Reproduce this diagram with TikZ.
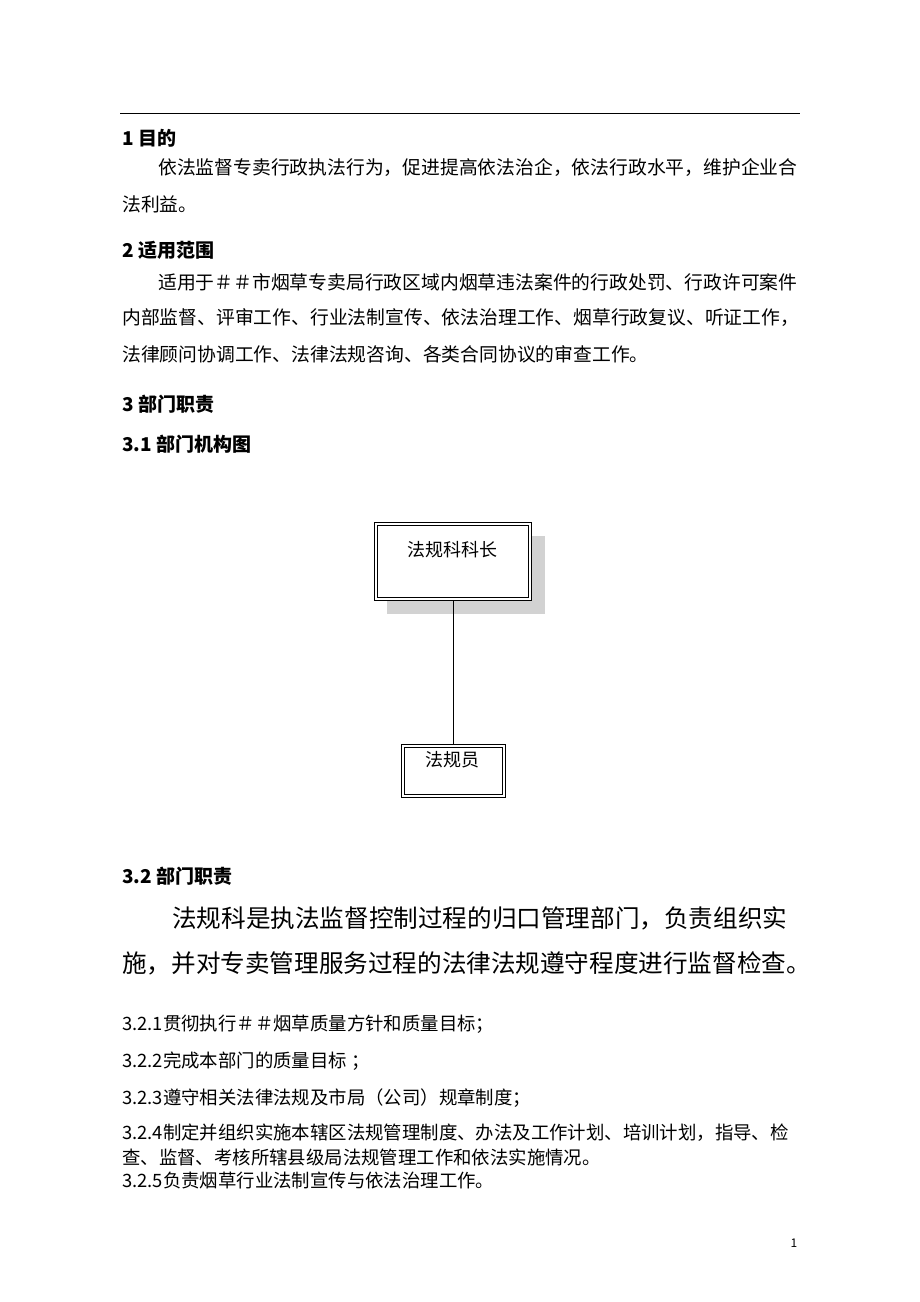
\documentclass[tikz,border=0pt]{standalone}
\usepackage{fontspec}
\setmainfont{Noto Sans CJK SC}
\begin{document}
\begin{tikzpicture}[x=1pt,y=-1pt,
  txt/.style={anchor=west,inner sep=0pt,font=\fontsize{18.8}{20}\selectfont},
  hd/.style={anchor=west,inner sep=0pt,font=\fontsize{19}{20}\selectfont\bfseries},
  big/.style={anchor=west,inner sep=0pt,font=\fontsize{24.6}{26}\selectfont},
  sm/.style={anchor=west,inner sep=0pt,font=\fontsize{18.4}{19}\selectfont},
  frame/.style={draw,line width=0.7pt}]
\useasboundingbox (0,0) rectangle (920,1302);
\draw[line width=0.8pt] (120,113) -- (800,113);
\node[hd] (h1) at (122,138) {1 目的};
\node[txt] (p1a) at (158,168) {依法监督专卖行政执法行为，促进提高依法治企，依法行政水平，维护企业合};
\node[txt] (p1b) at (122,204) {法利益。};
\node[hd] (h2) at (122,250) {2 适用范围};
\node[txt] (p2a) at (158,282) {适用于＃＃市烟草专卖局行政区域内烟草违法案件的行政处罚、行政许可案件};
\node[txt] (p2b) at (122,318) {内部监督、评审工作、行业法制宣传、依法治理工作、烟草行政复议、听证工作，};
\node[txt] (p2c) at (122,354) {法律顾问协调工作、法律法规咨询、各类合同协议的审查工作。};
\node[hd] (h3) at (122,404) {3 部门职责};
\node[hd] (h31) at (122,444) {3.1 部门机构图};
% org chart
\fill[gray!35] (387,536) rectangle (545,614);
\fill[white] (374,522) rectangle (531,600);
\draw[frame] (374,522) rectangle (531,600);
\draw[frame] (377,525) rectangle (528,597);
\coordinate (bossS) at (453,600);
\node[inner sep=0pt,font=\fontsize{18}{20}\selectfont] (bosst) at (452,550) {法规科科长};
\draw[frame] (401,744) rectangle (505,797);
\draw[frame] (404,747) rectangle (502,794);
\coordinate (staffN) at (453,744);
\node[inner sep=0pt,font=\fontsize{18}{20}\selectfont] (stafft) at (452,760) {法规员};
\draw[line width=0.8pt] (bossS) -- (staffN);
\node[hd] (h32) at (122,876) {3.2 部门职责};
\node[big] (b1) at (172,918) {法规科是执法监督控制过程的归口管理部门，负责组织实};
\node[big] (b2) at (122,963) {施，并对专卖管理服务过程的法律法规遵守程度进行监督检查。};
\node[sm] (s1) at (122,1024) {3.2.1贯彻执行＃＃烟草质量方针和质量目标；};
\node[sm] (s2) at (122,1061) {3.2.2完成本部门的质量目标 ；};
\node[sm] (s3) at (122,1098) {3.2.3遵守相关法律法规及市局（公司）规章制度；};
\node[sm] (s4a) at (122,1133) {3.2.4制定并组织实施本辖区法规管理制度、办法及工作计划、培训计划，指导、检};
\node[sm] (s4b) at (122,1157) {查、监督、考核所辖县级局法规管理工作和依法实施情况。};
\node[sm] (s5) at (122,1180) {3.2.5负责烟草行业法制宣传与依法治理工作。};
\node[inner sep=0pt,font=\fontsize{12}{14}\selectfont] (pg) at (794,1243) {1};
\end{tikzpicture}
\end{document}
